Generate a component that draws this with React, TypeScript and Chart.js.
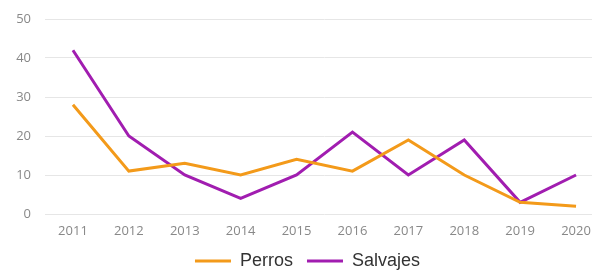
import React, { useEffect, useRef } from "react";
import { Chart, registerables } from "chart.js";

Chart.register(...registerables);

const years = ["2011", "2012", "2013", "2014", "2015", "2016", "2017", "2018", "2019", "2020"];
const perros = [28, 11, 13, 10, 14, 11, 19, 10, 3, 2];
const salvajes = [42, 20, 10, 4, 10, 21, 10, 19, 3, 10];
const yTicks = [0, 10, 20, 30, 40, 50];

export default function App() {
  const ref = useRef<HTMLCanvasElement>(null);
  useEffect(() => {
    if (!ref.current) return;
    const chart = new Chart(ref.current, {
      type: "line",
      data: {
        labels: years,
        datasets: [
          {
            label: "Perros",
            data: perros,
            borderColor: "#F39A1A",
            backgroundColor: "#F39A1A",
            borderWidth: 3,
            pointRadius: 0,
            tension: 0,
          },
          {
            label: "Salvajes",
            data: salvajes,
            borderColor: "#A11DB0",
            backgroundColor: "#A11DB0",
            borderWidth: 3,
            pointRadius: 0,
            tension: 0,
          },
        ],
      },
      options: {
        responsive: false,
        animation: false,
        layout: { padding: { top: 19, left: 11, right: 0, bottom: -10 } },
        plugins: {
          legend: {
            position: "bottom",
            labels: {
              usePointStyle: true,
              pointStyle: "line",
              pointStyleWidth: 36,
              boxHeight: 18,
              padding: 14,
              color: "#333",
              font: { family: "'Liberation Sans', Arial, sans-serif", size: 18 },
            },
          },
          tooltip: { enabled: false },
        },
        scales: {
          x: {
            offset: true,
            afterFit: (s: any) => {
              s.height = 24;
            },
            grid: { display: false, drawTicks: false },
            border: { display: false },
            ticks: {
              color: "#888",
              padding: 9,
              font: { family: "'Open Sans', sans-serif", size: 13 },
              maxRotation: 0,
            },
          },
          y: {
            min: 0,
            max: 50,
            afterFit: (s: any) => {
              s.width = 34;
              s.paddingTop = 0;
              s.paddingBottom = 0;
            },
            afterBuildTicks: (s: any) => {
              s.ticks = yTicks.map((v) => ({ value: v }));
            },
            grid: { color: "#E6E6E6", lineWidth: 1, drawTicks: false },
            border: { display: false },
            ticks: {
              color: "#888",
              padding: 14,
              font: { family: "'Open Sans', sans-serif", size: 13 },
            },
          },
        },
      },
    });
    return () => chart.destroy();
  }, []);
  return (
    <div style={{ position: "absolute", left: 0, top: 0, width: 592, height: 270, overflow: "hidden", background: "#fff" }}>
      <canvas ref={ref} width={604} height={270} style={{ display: "block" }} />
    </div>
  );
}
